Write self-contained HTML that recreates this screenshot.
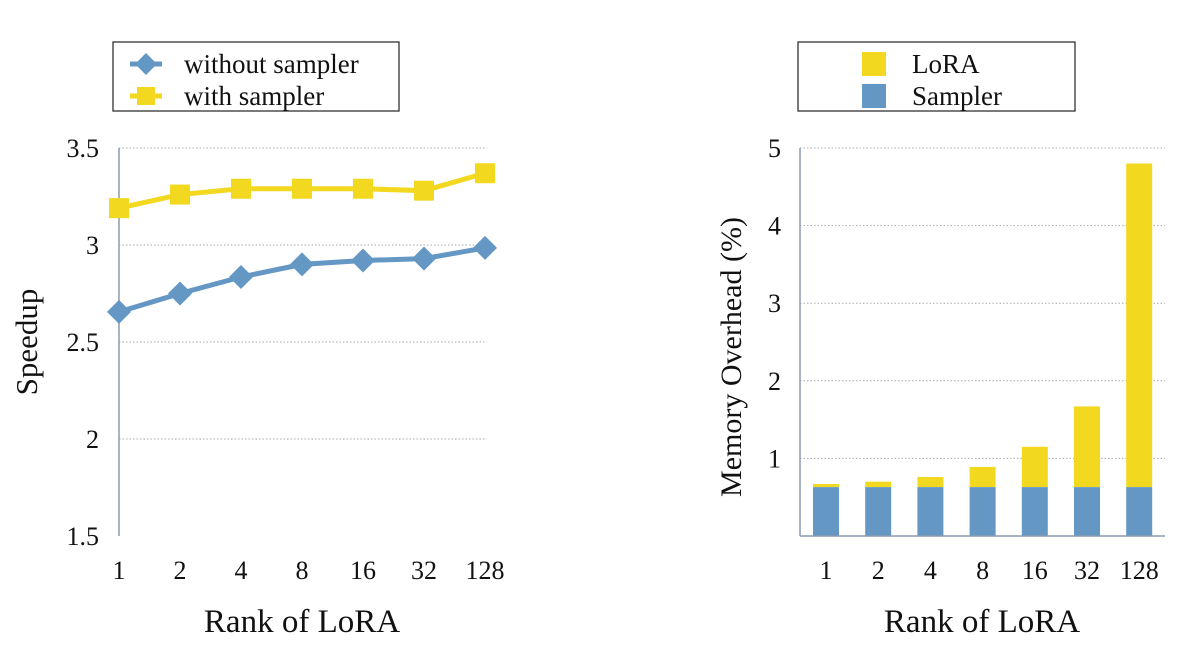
<!DOCTYPE html>
<html><head><meta charset="utf-8"><style>
body{margin:0;background:#fff;}
svg text{font-family:"Liberation Serif",serif;fill:#111;}
</style></head><body>
<svg width="1200" height="650" viewBox="0 0 1200 650">
<g id="left"></g>
<g id="right"></g>
</svg>
<script>
const ranks = ["1","2","4","8","16","32","128"];
const withoutSampler = [2.655, 2.75, 2.835, 2.90, 2.92, 2.93, 2.985];
const withSampler = [3.19, 3.26, 3.29, 3.29, 3.29, 3.28, 3.37];
const leftTicks = [1.5, 2, 2.5, 3, 3.5];
const leftTickLabels = ["1.5","2","2.5","3","3.5"];
const samplerMem = [0.63, 0.63, 0.63, 0.63, 0.63, 0.63, 0.63];
const totalMem = [0.67, 0.70, 0.76, 0.89, 1.15, 1.67, 4.8];
const rightTicks = [1, 2, 3, 4, 5];

const NS = "http://www.w3.org/2000/svg";
function mk(parent, tag, attrs, text){
  const e = document.createElementNS(NS, tag);
  for (const k in attrs) e.setAttribute(k, attrs[k]);
  if (text !== undefined) e.textContent = text;
  parent.appendChild(e); return e;
}
const BLUE="#6497c3", YEL="#f2d81f";

// LEFT
const L = document.getElementById('left');
const ly = v => 536 - (v - 1.5) * 194;
const lx = i => 119 + i * 61;
leftTicks.forEach((t, i) => {
  if (i > 0) { const g = mk(L,'line',{x1:119,x2:487,y1:ly(t),y2:ly(t),stroke:'#aaa','stroke-dasharray':'1.5,2','stroke-width':1});
      }
  const tl = mk(L,'text',{x:99,y:ly(t)+9,'font-size':26,'text-anchor':'end'},leftTickLabels[i]);
   
});
let ax = mk(L,'line',{x1:119,x2:119,y1:148,y2:536,stroke:'#8a9bb0','stroke-width':1.5});
 
ranks.forEach((r,i)=>{ const t=mk(L,'text',{x:lx(i),y:579,'font-size':26,'text-anchor':'middle'},r);
    });
let t1 = mk(L,'text',{x:302,y:632,'font-size':33,'text-anchor':'middle'},'Rank of LoRA');
 
let t2 = mk(L,'text',{x:0,y:0,'font-size':31,'text-anchor':'middle',transform:'translate(37,342) rotate(-90)'},'Speedup');
 
function series(vals,color,shape,name){
  const p = mk(L,'polyline',{points:vals.map((v,i)=>lx(i)+','+ly(v)).join(' '),fill:'none',stroke:color,'stroke-width':5});
   
  vals.forEach((v,i)=>{ let m;
    if(shape==='sq') m=mk(L,'rect',{x:lx(i)-10,y:ly(v)-10,width:20,height:20,fill:color});
    else m=mk(L,'polygon',{points:`${lx(i)},${ly(v)-12} ${lx(i)+12},${ly(v)} ${lx(i)},${ly(v)+12} ${lx(i)-12},${ly(v)}`,fill:color});
      });
}
series(withSampler,YEL,'sq','with-sampler');
series(withoutSampler,BLUE,'dia','without-sampler');
let lg = mk(L,'g',{});  
mk(lg,'rect',{x:113,y:42,width:286,height:69,fill:'#fff',stroke:'#222','stroke-width':1.2});
mk(lg,'line',{x1:130,x2:162,y1:64,y2:64,stroke:BLUE,'stroke-width':5});
mk(lg,'polygon',{points:'146,53 157,64 146,75 135,64',fill:BLUE});
mk(lg,'text',{x:184,y:73,'font-size':27},'without sampler');
mk(lg,'line',{x1:130,x2:162,y1:96,y2:96,stroke:YEL,'stroke-width':5});
mk(lg,'rect',{x:137,y:87,width:18,height:18,fill:YEL});
mk(lg,'text',{x:184,y:105,'font-size':27},'with sampler');

// RIGHT
const R = document.getElementById('right');
const ry = v => 536 - v * 77.6;
const rx = i => 826 + i * 52.2;
rightTicks.forEach(t=>{ const g=mk(R,'line',{x1:800,x2:1165,y1:ry(t),y2:ry(t),stroke:'#aaa','stroke-dasharray':'1.5,2','stroke-width':1});
   
  const tl=mk(R,'text',{x:781,y:ry(t)+9,'font-size':26,'text-anchor':'end'},String(t));
    });
ranks.forEach((r,i)=>{
  const a=mk(R,'rect',{x:rx(i)-13,y:ry(totalMem[i]),width:26,height:ry(samplerMem[i])-ry(totalMem[i]),fill:YEL});
   
  const b=mk(R,'rect',{x:rx(i)-13,y:ry(samplerMem[i]),width:26,height:ry(0)-ry(samplerMem[i]),fill:BLUE});
   
  const t=mk(R,'text',{x:rx(i),y:579,'font-size':26,'text-anchor':'middle'},r);
   
});
let ay=mk(R,'line',{x1:800,x2:800,y1:148,y2:536,stroke:'#8a9bb0','stroke-width':1.5});
 
let axx=mk(R,'line',{x1:800,x2:1165,y1:536,y2:536,stroke:'#8a9bb0','stroke-width':1.5});
 
let t3=mk(R,'text',{x:982,y:632,'font-size':33,'text-anchor':'middle'},'Rank of LoRA');
 
let t4=mk(R,'text',{x:0,y:0,'font-size':30,'text-anchor':'middle',transform:'translate(741,357) rotate(-90)'},'Memory Overhead (%)');
 
let rg=mk(R,'g',{});  
mk(rg,'rect',{x:798,y:42,width:277,height:69,fill:'#fff',stroke:'#222','stroke-width':1.2});
mk(rg,'rect',{x:862,y:52,width:24,height:24,fill:YEL});
mk(rg,'text',{x:912,y:73,'font-size':27},'LoRA');
mk(rg,'rect',{x:862,y:84,width:24,height:24,fill:BLUE});
mk(rg,'text',{x:912,y:105,'font-size':27},'Sampler');
</script>
</body></html>
